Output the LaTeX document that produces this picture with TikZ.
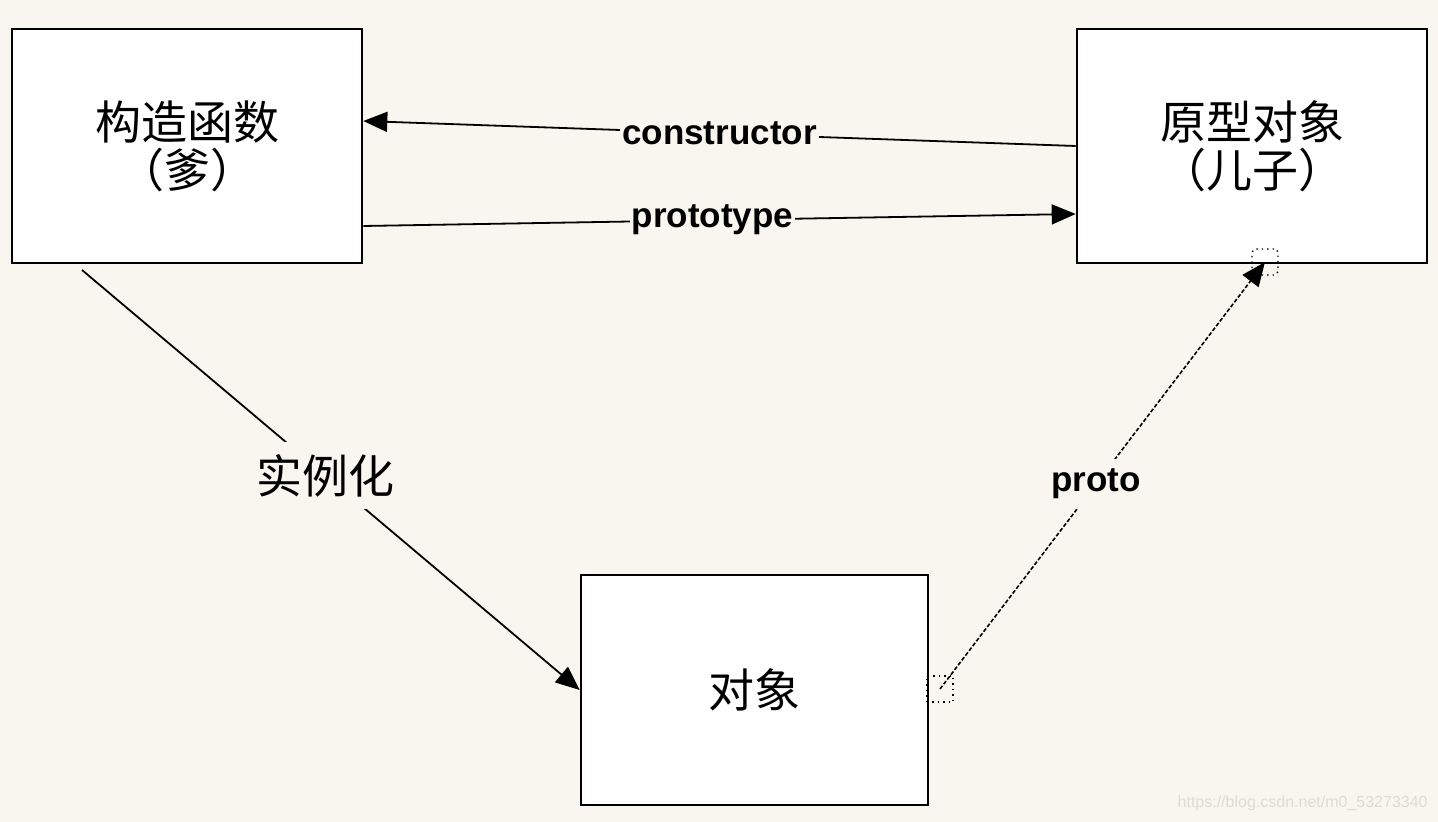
\documentclass[tikz,border=0pt]{standalone}
\usepackage{fontspec}
\setmainfont{Liberation Sans}
\newfontfamily\cjk{Noto Sans CJK SC}
\usetikzlibrary{arrows.meta,calc}
\definecolor{bgc}{RGB}{248,246,239}
\definecolor{wmc}{RGB}{222,219,212}
\begin{document}
\begin{tikzpicture}[x=0.5pt,y=-0.5pt,
  box/.style={draw=black,line width=1.3pt,fill=white,align=center,
    font=\cjk\fontsize{23}{24}\selectfont,inner sep=0pt},
  conn/.style={line width=0.9pt,-{Triangle[length=12pt,width=10pt]}},
  lbl/.style={fill=bgc,inner sep=1pt,font=\bfseries\fontsize{17.5}{20}\selectfont},
  clbl/.style={fill=bgc,inner sep=6pt,font=\cjk\fontsize{23}{24}\selectfont},
  handle/.style={draw=black,dotted,line width=0.7pt,minimum width=13pt,minimum height=13pt,inner sep=0pt}]
\fill[bgc] (0,0) rectangle (1438,822);
\useasboundingbox (0,0) rectangle (1438,822);
\node[box,minimum width=175pt,minimum height=117pt] (A) at (187,146) {构造函数\\（爹）};
\node[box,minimum width=175pt,minimum height=117pt] (B) at (1252,146) {原型对象\\（儿子）};
\node[box,minimum width=173.5pt,minimum height=115pt] (C) at (754.5,690) {对象};
\node[handle] (s1) at (940,689) {};
\node[handle,rounded corners=2pt] (s2) at (1265,262) {};
\coordinate (i0) at (82,270);
\draw[conn] (B.west) -- node[lbl,pos=0.5]{constructor} ($(A.east)+(0,-25)$);
\draw[conn] ($(A.east)+(0,80)$) -- node[lbl,pos=0.49]{prototype} ($(B.west)+(0,68)$);
\draw[conn] (i0) -- node[clbl,pos=0.49]{实例化} (C.west);
\draw[line width=0.8pt,dash pattern=on 2pt off 1pt,-{Triangle[length=12pt,width=10pt]}] (s1.center) -- node[lbl,inner sep=5pt,pos=0.48]{proto} (s2.center);
\node[text=wmc,font=\fontsize{8}{9}\selectfont,anchor=east,inner sep=0pt] (wm) at (1428,803) {https://blog.csdn.net/m0\_53273340};
\end{tikzpicture}
\end{document}
